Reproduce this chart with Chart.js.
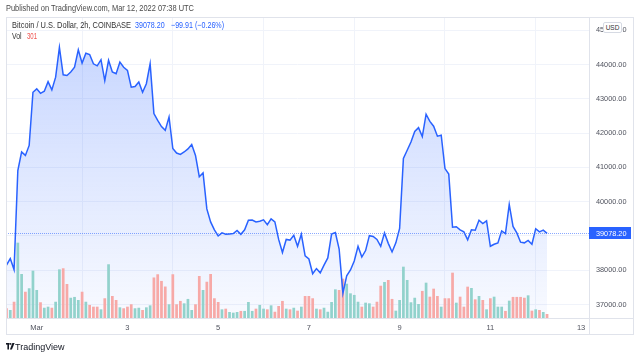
<!DOCTYPE html>
<html>
<head>
<meta charset="utf-8">
<script src="https://cdn.jsdelivr.net/npm/chart.js@4.4.1/dist/chart.umd.min.js"></script>
<style>
  html, body { margin: 0; padding: 0; background: #fff; }
  #wrap { position: relative; width: 640px; height: 358px; overflow: hidden; font-family: 'Liberation Sans', Arial, sans-serif; }
  #myChart { position: absolute; left: 0; top: 0; }
  .t { position: absolute; white-space: nowrap; font-size: 9px; line-height: 10px; transform-origin: 0 0; }
  #usd { position: absolute; left: 603px; top: 22px; width: 17px; height: 9px; border: 1px solid #d6dae3; border-radius: 2px;
         background: #fff; font-size: 6.5px; line-height: 9px; text-align: center; color: #333; }
</style>
</head>
<body>
<div id="wrap">
  <canvas id="myChart" width="640" height="358"></canvas>
  <div class="t" id="pub" style="left:6px;top:3px;color:#4a4a4a">Published on TradingView.com, Mar 12, 2022 07:38 UTC</div>
  <div class="t" id="sym" style="left:12px;top:20px;color:#333">Bitcoin / U.S. Dollar, 2h, COINBASE</div>
  <div class="t" id="last" style="left:135px;top:20px;color:#2962ff">39078.20</div>
  <div class="t" id="chg" style="left:171px;top:20px;color:#2962ff">−99.91 (−0.26%)</div>
  <div class="t" id="vol" style="left:12px;top:31px;color:#333">Vol</div>
  <div class="t" id="vollast" style="left:27px;top:31px;color:#ef5350">301</div>
  <div id="usd">USD</div>
  <svg style="position:absolute;left:6px;top:343px" width="9" height="7" viewBox="0 0 9 7">
    <rect x="0" y="0" width="3.6" height="1.6" fill="#131722"/>
    <rect x="1.4" y="0" width="1.6" height="6.5" fill="#131722"/>
    <circle cx="4.6" cy="0.9" r="0.9" fill="#131722"/>
    <polygon points="6.4,0 8.6,0 5.9,6.5 3.9,6.5" fill="#131722"/>
  </svg>
  <div class="t" id="tv" style="left:15px;top:342px;color:#131722">TradingView</div>
</div>
<script>
// 2h closes, Feb 28 08:00 UTC .. Mar 12 06:00 UTC
const prices = [
  38150, 38340, 38020, 40910, 41450, 41350, 41640, 43190, 43290, 43160,
  43220, 43500, 43260, 43630, 44500, 43700, 43680, 43780, 43920, 44430,
  44040, 44330, 44290, 44020, 43960, 44140, 43530, 44120, 43780, 43730,
  44070, 43920, 43830, 43340, 43360, 43490, 43190, 43440, 44020, 42570,
  42370, 42190, 42080, 42470, 41550, 41420, 41380, 41450, 41540, 41670,
  41350, 40730, 40840, 39790, 39410, 39180, 39000, 39090, 39050, 39060,
  39070, 39160, 39050, 39180, 39460, 39465, 39410, 39430, 39470, 39330,
  39500, 39410, 38900, 38520, 38900, 38880, 39020, 38700, 39050, 38420,
  38330, 37900, 38050, 37925, 38150, 38360, 39055, 39100, 38620, 37330,
  37840, 38010, 38270, 38700, 38385, 38575, 39010, 38985, 38900, 38700,
  39090, 38785, 38535, 38800, 39220, 41260, 41500, 41740, 42050, 42160,
  41900, 42550, 42340, 42200, 41910, 41940, 40965, 40805, 39255, 39270,
  39180, 39120, 38890, 39180, 39170, 39460, 39360, 39440, 38700, 38760,
  38800, 39150, 39070, 39920, 39280, 39090, 38820, 38800, 38870, 38760,
  39210, 39120, 39170, 39078.2
];

const volumes = [
  730, 600, 1220, 5650, 3300, 1970, 2230, 3550, 2100, 1180,
  770, 850, 770, 1220, 3650, 3730, 2550, 1520, 1580, 1350,
  1970, 1220, 980, 850, 850, 650, 1480, 4030, 1650, 1350,
  800, 730, 850, 1030, 730, 770, 600, 800, 950, 3040,
  3280, 2780, 2360, 1030, 3280, 1030, 1280, 1100, 1430, 600,
  1030, 3150, 2100, 2720, 3300, 1480, 1200, 650, 700, 450,
  400, 450, 530, 530, 1200, 530, 700, 980, 700, 650,
  950, 470, 900, 1280, 700, 650, 770, 550, 850, 1650,
  1650, 1480, 700, 650, 770, 470, 1200, 2150, 2100, 2950,
  2570, 1850, 1730, 1220, 850, 1150, 1100, 850, 1220, 2420,
  2700, 2850, 1430, 550, 1350, 3850, 2850, 1180, 1520, 1050,
  2030, 2650, 1600, 2200, 1650, 850, 1480, 1480, 3400, 1150,
  1600, 850, 2350, 2250, 1400, 1650, 1350, 650, 1480, 1600,
  850, 850, 530, 1300, 1580, 1580, 1580, 1520, 1700, 550,
  650, 600, 450, 301
];

// bar index of each day label (midnight UTC)
const dayTicks = [8, 32, 56, 80, 104, 128, 152];
const dayLabels = ['Mar', '3', '5', '7', '9', '11', '13'];
const priceTicks = [37000, 38000, 39000, 40000, 41000, 42000, 43000, 44000, 45000];
const lastPrice = 39078.20;

const UP = '#92d2cc', DOWN = '#f7a9a7', BLUE = '#2962ff', GRID = '#f0f3fa', FRAME = '#e0e3eb';

const volColors = prices.map((p, i) => (i > 0 && p >= prices[i - 1]) ? UP : DOWN);

function fit(id, w) {
  const el = document.getElementById(id);
  el.style.transform = 'scaleX(' + (w / el.scrollWidth) + ')';
}
fit('pub', 188); fit('sym', 119); fit('last', 30); fit('chg', 53);
fit('vol', 10); fit('vollast', 10); fit('tv', 50);

const lastPricePlugin = {
  id: 'lastPrice',
  afterDatasetsDraw(chart) {
    const c = chart.ctx, a = chart.chartArea;
    const y = Math.round(chart.scales.y.getPixelForValue(lastPrice)) + 0.5;
    c.save();
    c.strokeStyle = 'rgba(41,98,255,0.55)';
    c.lineWidth = 1;
    c.setLineDash([1, 1]);
    c.beginPath(); c.moveTo(a.left, y); c.lineTo(a.right, y); c.stroke();
    c.restore();
  },
  afterDraw(chart) {
    const c = chart.ctx, a = chart.chartArea;
    const y = Math.round(chart.scales.y.getPixelForValue(lastPrice));
    c.save();
    // frame + separators
    c.strokeStyle = FRAME;
    c.lineWidth = 1;
    c.strokeRect(6.5, 17.5, 627, 317);
    c.beginPath();
    c.moveTo(a.right + 0.5, 17); c.lineTo(a.right + 0.5, 335);
    c.moveTo(6, a.bottom + 0.5); c.lineTo(634, a.bottom + 0.5);
    c.stroke();
    // last price label
    c.fillStyle = BLUE;
    c.fillRect(a.right, y - 6, 42, 12);
    c.fillStyle = '#fff';
    c.font = '7.3px "Liberation Sans", Arial, sans-serif';
    c.textBaseline = 'middle';
    c.fillText(lastPrice.toFixed(2), a.right + 7, y + 0.5);
    c.restore();
  }
};

const ctx = document.getElementById('myChart');
new Chart(ctx, {
  data: {
    datasets: [
      {
        type: 'line',
        data: prices.map((p, i) => ({ x: i, y: p })),
        yAxisID: 'y',
        borderColor: BLUE,
        borderWidth: 1.5,
        pointRadius: 0,
        tension: 0,
        fill: 'start',
        backgroundColor: (context) => {
          const area = context.chart.chartArea;
          if (!area) return 'rgba(41,98,255,0.15)';
          const g = context.chart.ctx.createLinearGradient(0, area.top, 0, area.bottom);
          g.addColorStop(0, 'rgba(41,98,255,0.28)');
          g.addColorStop(1, 'rgba(41,98,255,0.03)');
          return g;
        },
        order: 0
      },
      {
        type: 'bar',
        data: volumes.map((v, i) => ({ x: i, y: v })),
        yAxisID: 'vol',
        backgroundColor: volColors,
        categoryPercentage: 1,
        barPercentage: 0.72,
        order: 1
      }
    ]
  },
  options: {
    responsive: false,
    animation: false,
    events: [],
    layout: { padding: { left: 6, right: 6, top: 17, bottom: 23 } },
    plugins: {
      legend: { display: false },
      tooltip: { enabled: false },
      filler: { drawTime: 'beforeDatasetsDraw' }
    },
    scales: {
      x: {
        type: 'linear',
        min: -0.13,
        max: 154.1,
        offset: false,
        afterBuildTicks: (s) => { s.ticks = dayTicks.map(v => ({ value: v })); },
        afterFit: (s) => { s.height = 17; },
        grid: { color: GRID, drawTicks: false },
        border: { display: false },
        ticks: {
          autoSkip: false,
          maxRotation: 0,
          padding: 5,
          color: '#50535e',
          font: { family: 'Liberation Sans', size: 7.5 },
          callback: (v) => dayLabels[dayTicks.indexOf(v)]
        }
      },
      y: {
        position: 'right',
        min: 36609,
        max: 45385,
        afterBuildTicks: (s) => { s.ticks = priceTicks.map(v => ({ value: v })); },
        afterFit: (s) => { s.width = 45; },
        grid: { color: GRID, drawTicks: false },
        border: { display: false },
        ticks: {
          padding: 7,
          color: '#50535e',
          font: { family: 'Liberation Sans', size: 7.3 },
          callback: (v) => v.toFixed(2)
        }
      },
      vol: {
        display: false,
        min: 0,
        max: 22575
      }
    }
  },
  plugins: [lastPricePlugin]
});
</script>
</body>
</html>
